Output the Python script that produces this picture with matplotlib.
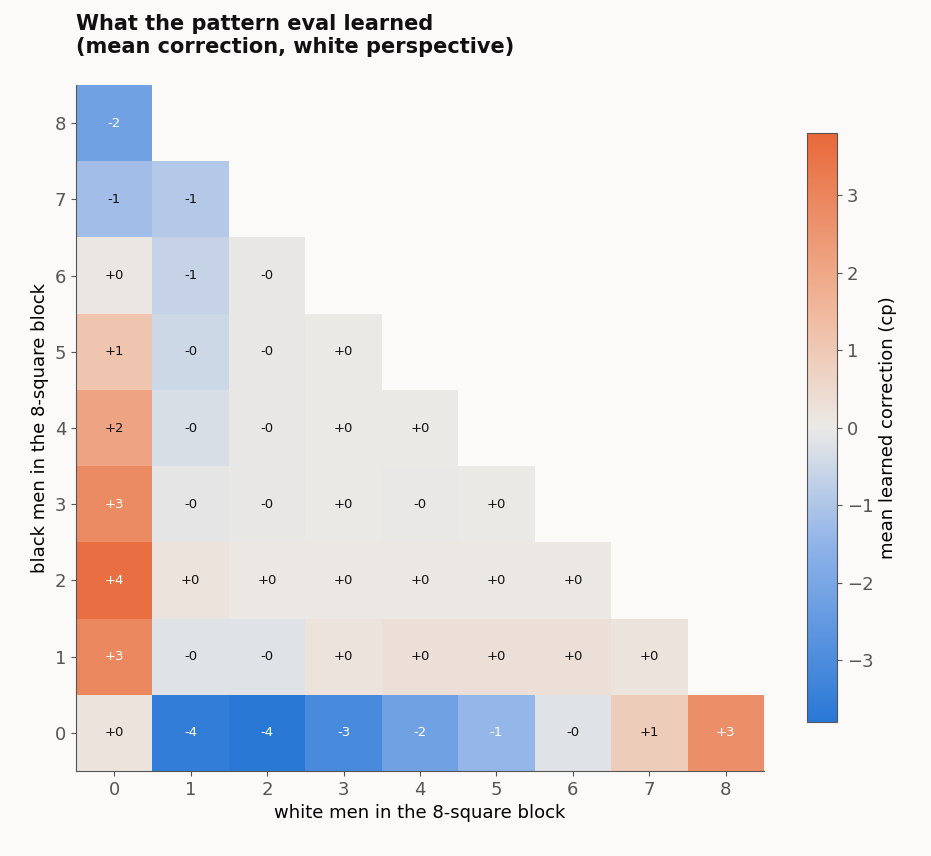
import numpy as np
import matplotlib
matplotlib.use("Agg")
import matplotlib.pyplot as plt
from matplotlib.colors import LinearSegmentedColormap

# mean learned correction, rows = black men (0..8), cols = white men (0..8)
row_b0 = [0.2, -3.6, -3.8, -3.1, -2.2, -1.45, -0.2, 0.9, 2.7]
row_b1 = [2.9, -0.2, -0.2, 0.2, 0.3, 0.3, 0.3, 0.2]
row_b2 = [3.6, 0.2, 0.05, 0.05, 0.05, 0.05, 0.05]
row_b3 = [2.8, -0.1, -0.05, 0.02, -0.02, 0.02]
row_b4 = [2.1, -0.3, -0.05, 0.02, 0.02]
row_b5 = [1.1, -0.5, -0.05, 0.02]
row_b6 = [0.1, -0.6, -0.05]
row_b7 = [-1.2, -0.9]
row_b8 = [-2.2]
rows = [row_b0, row_b1, row_b2, row_b3, row_b4, row_b5, row_b6, row_b7, row_b8]

grid = np.full((9, 9), np.nan)
for b, r in enumerate(rows):
    grid[b, :len(r)] = r

bg = "#fbfaf8"
cmap = LinearSegmentedColormap.from_list(
    "div", [(0.0, "#2a78d6"), (0.3, "#8fb3e8"), (0.5, "#ebe9e6"), (0.7, "#f0b89c"), (1.0, "#e8693a")])
vmax = 3.8

fig = plt.figure(figsize=(9.31, 8.56), dpi=100, facecolor=bg)
ax = fig.add_axes([76 / 931, 85 / 856, 688 / 931, 686 / 856])
ax.set_facecolor(bg)
mesh = ax.pcolormesh(np.arange(10) - 0.5, np.arange(10) - 0.5, np.ma.masked_invalid(grid),
                     cmap=cmap, vmin=-vmax, vmax=vmax)
for b, r in enumerate(rows):
    for w, v in enumerate(r):
        txt = f"{v:+.0f}" if abs(v) >= 0.5 else ("+0" if v >= 0 else "-0")
        white = v < -1.3 or v > 2.3
        ax.text(w, b, txt, ha="center", va="center", fontsize=9.5,
                color="white" if white else "#111111")
ax.set_xlim(-0.5, 8.5)
ax.set_ylim(-0.5, 8.5)
ax.set_xticks(range(9))
ax.set_yticks(range(9))
ax.tick_params(labelsize=13, colors="#555555", labelcolor="#555555")
for s in ["top", "right"]:
    ax.spines[s].set_visible(False)
for s in ["left", "bottom"]:
    ax.spines[s].set_color("#555555")
ax.set_xlabel("white men in the 8-square block", fontsize=13)
ax.set_ylabel("black men in the 8-square block", fontsize=13)
fig.text(76 / 931, 1 - 14 / 856, "What the pattern eval learned\n(mean correction, white perspective)",
         fontsize=15, fontweight="bold", ha="left", va="top", color="#111111")

cax = fig.add_axes([807 / 931, 1 - 722 / 856, 30 / 931, 589 / 856])
cb = fig.colorbar(mesh, cax=cax)
cb.set_label("mean learned correction (cp)", fontsize=13)
cb.ax.tick_params(labelsize=13, colors="#555555")
cb.outline.set_edgecolor("#555555")

fig.savefig("out.png", dpi=100, facecolor=bg)
